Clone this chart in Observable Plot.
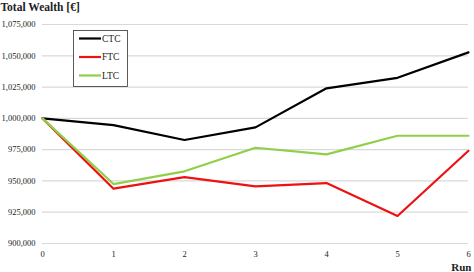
<!DOCTYPE html>
<html><head><meta charset="utf-8">
<script src="https://cdn.jsdelivr.net/npm/d3@7"></script>
<script src="https://cdn.jsdelivr.net/npm/@observablehq/plot@0.6"></script>
<style>body{margin:0;background:#fff}</style>
</head><body><div id="chart"></div>
<script>
const runs = [0, 1, 2, 3, 4, 5, 6];
const ctc = [1000000, 994600, 982700, 992800, 1024000, 1032400, 1052700];
const ftc = [1000000, 943800, 953100, 945700, 948300, 922000, 974100];
const ltc = [1000000, 947500, 957700, 976500, 971200, 986100, 986100];
const seriesNames = ["CTC", "FTC", "LTC"];
const seriesColors = ["#000000", "#ee1111", "#8fcf4a"];
const yTicks = [900000, 925000, 950000, 975000, 1000000, 1025000, 1050000, 1075000];

const data = [];
[ctc, ftc, ltc].forEach((vals, i) => runs.forEach((r, j) => data.push({run: r, value: vals[j], series: seriesNames[i]})));

const font = "Liberation Serif, DejaVu Serif, serif";
const fmt = d3.format(",");

const chart = Plot.plot({
  width: 474, height: 272,
  marginLeft: 42, marginRight: 6, marginTop: 24, marginBottom: 29,
  style: {fontFamily: font, fontSize: "8.5px", color: "#222", background: "#fff"},
  x: {domain: [0, 6], ticks: runs, tickFormat: d => d, tickSize: 0, tickPadding: 7, label: null},
  y: {domain: [900000, 1075000], ticks: yTicks, tickFormat: fmt, tickSize: 0, tickPadding: 7, label: null},
  color: {domain: seriesNames, range: seriesColors},
  marks: [
    Plot.ruleY(yTicks, {stroke: "#d9d9d9", strokeWidth: 1.2}),
    Plot.line(data, {x: "run", y: "value", z: "series", stroke: "series", strokeWidth: 2.2}),
    Plot.text(["Total Wealth [€]"], {frameAnchor: "top-left", dx: -42, dy: -22, fontWeight: "bold", fontSize: 11.5, textAnchor: "start", fill: "#222"}),
    Plot.text(["Run"], {frameAnchor: "bottom-right", dx: 3, dy: 27, lineAnchor: "bottom", fontWeight: "bold", fontSize: 11, textAnchor: "end", fill: "#222"})
  ]
});
document.getElementById("chart").append(chart);

// legend box
const svg = d3.select(chart);
const g = svg.append("g").attr("font-family", font).attr("font-size", 9.5).attr("text-anchor", "start");
g.append("rect").attr("x", 73.5).attr("y", 30.5).attr("width", 54).attr("height", 56)
  .attr("fill", "#fff").attr("stroke", "#333").attr("stroke-width", 0.8);
seriesNames.forEach((name, i) => {
  const y = 38.5 + i * 18.5;
  g.append("line").attr("x1", 79).attr("x2", 101).attr("y1", y).attr("y2", y)
    .attr("stroke", seriesColors[i]).attr("stroke-width", 2.2);
  g.append("text").attr("x", 102).attr("y", y).attr("dy", "0.35em").attr("text-anchor", "start").attr("fill", "#222").text(name);
});
</script></body></html>
